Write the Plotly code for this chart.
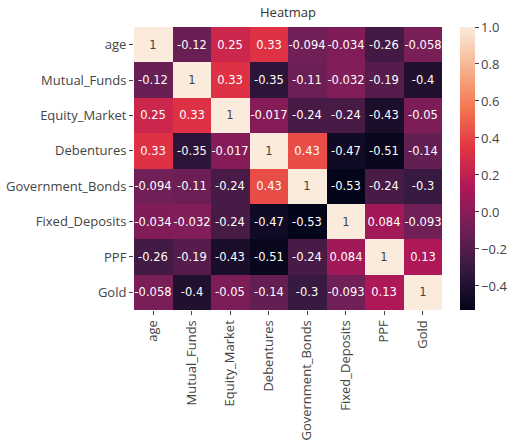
import plotly.graph_objects as go

labels = ["age", "Mutual_Funds", "Equity_Market", "Debentures",
          "Government_Bonds", "Fixed_Deposits", "PPF", "Gold"]

age =              [1, -0.12, 0.25, 0.33, -0.094, -0.034, -0.26, -0.058]
mutual_funds =     [-0.12, 1, 0.33, -0.35, -0.11, -0.032, -0.19, -0.4]
equity_market =    [0.25, 0.33, 1, -0.017, -0.24, -0.24, -0.43, -0.05]
debentures =       [0.33, -0.35, -0.017, 1, 0.43, -0.47, -0.51, -0.14]
government_bonds = [-0.094, -0.11, -0.24, 0.43, 1, -0.53, -0.24, -0.3]
fixed_deposits =   [-0.034, -0.032, -0.24, -0.47, -0.53, 1, 0.084, -0.093]
ppf =              [-0.26, -0.19, -0.43, -0.51, -0.24, 0.084, 1, 0.13]
gold =             [-0.058, -0.4, -0.05, -0.14, -0.3, -0.093, 0.13, 1]

z = [age, mutual_funds, equity_market, debentures,
     government_bonds, fixed_deposits, ppf, gold]
text = [[("%g" % v) for v in row] for row in z]

rocket = [
    [0.0, "#03051a"],
    [1/7, "#35193e"],
    [2/7, "#701f57"],
    [3/7, "#ad1759"],
    [4/7, "#e13342"],
    [5/7, "#f37651"],
    [6/7, "#f6b48f"],
    [1.0, "#faebdd"],
]

L, R, T, B = 134, 20, 27, 130
W, H = 515, 440
pw = W - L - R
plot_right = 442

fig = go.Figure(go.Heatmap(
    z=z, x=labels, y=labels, text=text, texttemplate="%{text}",
    textfont=dict(family="DejaVu Sans", size=11.5),
    colorscale=rocket, zmin=-0.53, zmax=1.0,
    colorbar=dict(
        x=(460 - L) / pw, xanchor="left", xref="paper", y=0.5, yanchor="middle",
        len=1, lenmode="fraction", thickness=15, outlinewidth=0,
        tickvals=[-0.4, -0.2, 0.0, 0.2, 0.4, 0.6, 0.8, 1.0],
        tickformat=".1f", ticks="outside", ticklen=4, tickcolor="#444",
        tickfont=dict(family="Open Sans", size=13, color="#444"),
        ypad=0, xpad=0,
    ),
))

fig.update_layout(
    width=W, height=H,
    margin=dict(l=L, r=R, t=T, b=B, autoexpand=False),
    paper_bgcolor="white", plot_bgcolor="white",
    title=dict(text="Heatmap", x=288 / W, xref="container", xanchor="center",
               y=1 - 12 / H, yref="container", yanchor="middle",
               font=dict(family="Open Sans", size=13, color="#333")),
    font=dict(family="Open Sans", size=13, color="#444"),
)
fig.update_xaxes(domain=[0, (plot_right - L) / pw], tickangle=-90, ticks="outside",
                 ticklen=4, tickcolor="#444", showgrid=False, zeroline=False,
                 automargin=False,
                 tickfont=dict(family="Open Sans", size=13, color="#444"))
fig.update_yaxes(autorange="reversed", ticks="outside", ticklen=4, tickcolor="#444",
                 showgrid=False, zeroline=False, automargin=False,
                 tickfont=dict(family="Open Sans", size=13, color="#444"))

fig.write_html("out.html", config={"displayModeBar": False},
               post_script="document.body.style.margin='0px';")
